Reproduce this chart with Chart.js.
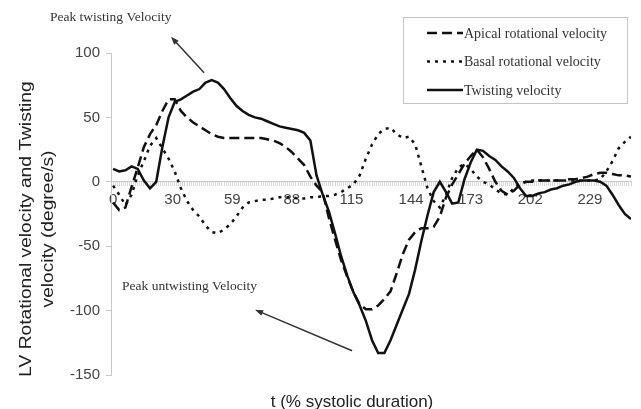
<!DOCTYPE html>
<html>
<head>
<meta charset="utf-8">
<script src="https://cdn.jsdelivr.net/npm/chart.js@4/dist/chart.umd.min.js"></script>
<style>
  html, body { margin: 0; padding: 0; background: #fff; }
  canvas { display: block; }
</style>
</head>
<body>
<canvas id="twistChart" width="641" height="409"></canvas>
<script>
// t positions (category index along the systolic-duration axis)
const tIndex = [
  0, 3, 6, 9, 12, 15, 18, 21, 24, 27, 30, 33, 36, 39, 42, 45, 48, 51, 54, 57,
  60, 63, 66, 69, 72, 75, 78, 81, 84, 87, 90, 93, 96, 99, 102, 105, 108, 111, 114, 117,
  120, 123, 126, 129, 132, 135, 138, 141, 144, 147, 150, 153, 156, 159, 162, 165, 168, 171, 174, 177,
  180, 183, 186, 189, 192, 195, 198, 201, 204, 207, 210, 213, 216, 219, 222, 225, 228, 231, 234, 237,
  240, 243, 246, 249, 252
];

const apical = [
  -16, -22, -20, -4, 11, 27, 37, 44, 55, 64, 64, 55, 50, 46, 43, 40, 37, 35, 34, 34,
  34, 34, 34, 34, 34, 33, 32, 30, 27, 23, 18, 13, 4, -3, -8, -28, -45, -61, -74, -86,
  -95, -99, -99, -96, -91, -85, -71, -56, -45, -39, -36, -36, -35, -27, -12, -2, 6, 14, 20, 25,
  19, 10, 0, -7, -10, -7, -2, 0, 0, 1, 1, 1, 1, 1, 2, 2, 3, 4, 6, 7,
  7, 6, 5, 5, 4
];

const basal = [
  -3, -10, -18, -10, 5, 16, 28, 34, 26, 18, 8, -5, -15, -22, -27, -34, -39, -40, -37, -33,
  -27, -20, -16, -15, -14, -14, -13, -12, -12, -12, -13, -13, -12, -12, -11, -11, -10, -8, -5, -2,
  5, 18, 29, 37, 41, 42, 37, 34, 35, 29, 12, -5, -15, -20, -10, 3, 11, 14, 10, 4,
  0, -2, -6, -9, -10, -5, -1, 0, 1, 1, 1, 1, 1, 1, 1, 1, 1, 1, 1, 2,
  8, 16, 26, 31, 35
];

const twisting = [
  10, 8, 9, 12, 10, 1, -5, 0, 27, 50, 62, 64, 67, 70, 72, 77, 79, 77, 72, 65,
  59, 55, 52, 50, 49, 47, 45, 43, 42, 41, 40, 38, 32, 5, -10, -23, -40, -58, -73, -86,
  -96, -108, -123, -133, -133, -123, -111, -99, -87, -68, -46, -26, -8, 0, -8, -17, -16, 2, 15, 25,
  24, 20, 17, 12, 8, 3, -5, -11, -11, -9, -8, -6, -5, -3, -2, 0, 1, 1, 1, 0,
  -3, -10, -18, -25, -29
];

// labelled x ticks: position (index) and the label Excel showed there
const tickPositions = [0, 29, 58, 87, 116, 145, 174, 203, 232];
const tickLabels = ["0", "30", "59", "88", "115", "144", "173", "202", "229"];

const seriesNames = ["Apical rotational velocity", "Basal rotational velocity", "Twisting velocity"];
const yTitleLines = ["LV Rotational velocity and Twisting", "velocity (degree/s)"];
const xTitle = "t (% systolic duration)";

// annotation texts + arrows, in data units
const notes = [
  { text: "Peak twisting Velocity", x: -30.7, y: 127.5, ax0: 44.3, ay0: 84.6, ax1: 28.2, ay1: 112.6 },
  { text: "Peak untwisting Velocity", x: 4.4, y: -81.5, ax0: 116.3, ay0: -131.2, ax1: 69.1, ay1: -99.4 },
];

const toPoints = (vals) => tIndex.map((t, i) => ({ x: t, y: vals[i] }));

/**
 * Legend box drawn from the dataset styles
 */
const legendBox = {
  id: "legendBox",
  afterDraw(chart) {
    const ctx = chart.ctx;
    ctx.save();
    ctx.fillStyle = "#fff";
    ctx.strokeStyle = "#c4c4c4";
    ctx.lineWidth = 1;
    ctx.fillRect(403.5, 17.5, 224, 86);
    ctx.strokeRect(403.5, 17.5, 224, 86);
    chart.data.datasets.forEach((ds, i) => {
      const y = 33 + i * 28.5;
      ctx.strokeStyle = ds.borderColor;
      ctx.lineWidth = ds.borderWidth;
      ctx.setLineDash(ds.borderDash || []);
      ctx.beginPath();
      ctx.moveTo(427, y);
      ctx.lineTo(463, y);
      ctx.stroke();
      ctx.setLineDash([]);
      ctx.fillStyle = "#333";
      ctx.font = '14px "Liberation Serif"';
      ctx.textBaseline = "middle";
      ctx.fillText(ds.label, 464, y + 1);
    });
    ctx.restore();
  },
};

/**
 * Axis titles and the two arrow annotations
 */
const extras = {
  id: "extras",
  afterDraw(chart) {
    const ctx = chart.ctx;
    const xs = chart.scales.x;
    const ys = chart.scales.y;
    ctx.save();

    // y title (rotated, two lines)
    ctx.fillStyle = "#222";
    ctx.font = '17px "Liberation Sans"';
    ctx.textAlign = "center";
    ctx.textBaseline = "middle";
    yTitleLines.forEach((line, i) => {
      ctx.save();
      ctx.translate(26 + i * 22, 229);
      ctx.rotate(-Math.PI / 2);
      ctx.scale(1.13, 1);
      ctx.fillText(line, 0, 0);
      ctx.restore();
    });

    // x title
    ctx.fillText(xTitle, 352, 402);

    // annotations
    notes.forEach((n) => {
      ctx.fillStyle = "#333";
      ctx.font = '13.5px "Liberation Serif"';
      ctx.textAlign = "left";
      ctx.fillText(n.text, xs.getPixelForValue(n.x), ys.getPixelForValue(n.y));

      const x0 = xs.getPixelForValue(n.ax0), y0 = ys.getPixelForValue(n.ay0);
      const x1 = xs.getPixelForValue(n.ax1), y1 = ys.getPixelForValue(n.ay1);
      const ang = Math.atan2(y1 - y0, x1 - x0);
      ctx.strokeStyle = "#333";
      ctx.lineWidth = 1.5;
      ctx.beginPath();
      ctx.moveTo(x0, y0);
      ctx.lineTo(x1 - 6 * Math.cos(ang), y1 - 6 * Math.sin(ang));
      ctx.stroke();
      ctx.fillStyle = "#333";
      ctx.beginPath();
      ctx.moveTo(x1, y1);
      ctx.lineTo(x1 - 8 * Math.cos(ang) + 3 * Math.sin(ang), y1 - 8 * Math.sin(ang) - 3 * Math.cos(ang));
      ctx.lineTo(x1 - 8 * Math.cos(ang) - 3 * Math.sin(ang), y1 - 8 * Math.sin(ang) + 3 * Math.cos(ang));
      ctx.closePath();
      ctx.fill();
    });
    ctx.restore();
  },
};

const ctx = document.getElementById("twistChart").getContext("2d");
new Chart(ctx, {
  type: "line",
  data: {
    datasets: [
      {
        label: seriesNames[0],
        data: toPoints(apical),
        borderColor: "#111",
        borderWidth: 2.5,
        borderDash: [10, 5],
        pointRadius: 0,
        fill: false,
        tension: 0,
      },
      {
        label: seriesNames[1],
        data: toPoints(basal),
        borderColor: "#111",
        borderWidth: 2.5,
        borderDash: [3, 5],
        pointRadius: 0,
        fill: false,
        tension: 0,
      },
      {
        label: seriesNames[2],
        data: toPoints(twisting),
        borderColor: "#111",
        borderWidth: 2.5,
        pointRadius: 0,
        fill: false,
        tension: 0,
      },
    ],
  },
  options: {
    responsive: false,
    animation: false,
    layout: { padding: { left: 0, top: 53, right: 10, bottom: 34 } },
    scales: {
      x: {
        type: "linear",
        position: { y: 0 },
        min: -1,
        max: 252,
        grid: {
          display: true,
          drawOnChartArea: false,
          drawTicks: true,
          tickLength: 4,
          color: "#dadada",
        },
        border: { display: true, color: "#c8c8c8" },
        ticks: {
          stepSize: 1,
          autoSkip: false,
          maxRotation: 0,
          padding: 5,
          color: "#444",
          font: { family: "Liberation Sans", size: 15 },
          callback: (value) => {
            const k = tickPositions.indexOf(value);
            return k >= 0 ? tickLabels[k] : "";
          },
        },
      },
      y: {
        min: -150,
        max: 100,
        afterFit: (scale) => { scale.width = 111; },
        grid: {
          display: true,
          drawOnChartArea: false,
          drawTicks: true,
          tickLength: 5,
          color: "#c8c8c8",
        },
        border: { display: true, color: "#c8c8c8" },
        ticks: {
          stepSize: 50,
          padding: 6,
          color: "#444",
          font: { family: "Liberation Sans", size: 15 },
        },
      },
    },
    plugins: {
      legend: { display: false },
      tooltip: { enabled: false },
    },
  },
  plugins: [legendBox, extras],
});
</script>
</body>
</html>
